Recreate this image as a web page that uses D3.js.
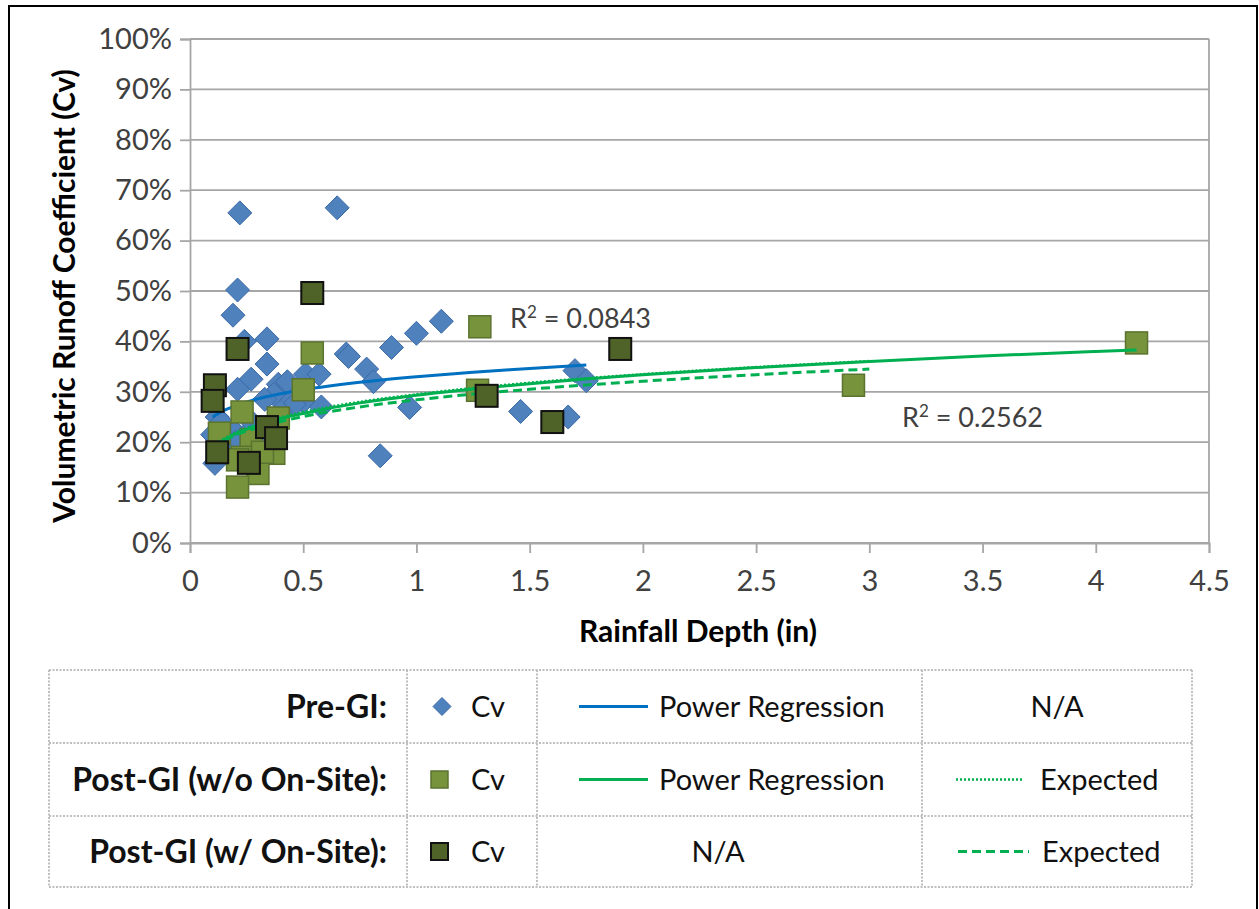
<!DOCTYPE html>
<html>
<head>
<meta charset="utf-8">
<script src="https://cdn.jsdelivr.net/npm/d3@7"></script>
<style>
  body { margin: 0; background: #fff; }
  svg { display: block; font-family: Lato, "Open Sans", sans-serif; }
</style>
</head>
<body>
<svg id="chart" width="1259" height="909"></svg>
<script>
// Pre-GI Cv points [rainfall depth (in), Cv]
const preGI = [
  [0.22, 0.655], [0.65, 0.665], [0.21, 0.502], [0.19, 0.452], [0.24, 0.40],
  [0.34, 0.405], [0.34, 0.355], [0.27, 0.325], [0.21, 0.305], [0.39, 0.315],
  [0.42, 0.30], [0.37, 0.295], [0.33, 0.285], [0.51, 0.335], [0.57, 0.335],
  [0.50, 0.28], [0.58, 0.27], [0.46, 0.275], [0.69, 0.375], [0.70, 0.37],
  [0.78, 0.345], [0.81, 0.32], [0.89, 0.388], [1.00, 0.416], [1.11, 0.44],
  [0.84, 0.173], [0.97, 0.269], [1.46, 0.261], [1.67, 0.25], [1.70, 0.342],
  [1.75, 0.322], [0.12, 0.25], [0.10, 0.215], [0.11, 0.158], [0.14, 0.24],
  [0.20, 0.22], [0.20, 0.20], [0.16, 0.18], [0.27, 0.225], [0.30, 0.205],
  [0.25, 0.25], [0.40, 0.26], [0.43, 0.32]
];
// Post-GI without on-site
const postNoSite = [
  [0.23, 0.26], [0.13, 0.218], [0.27, 0.205], [0.23, 0.17], [0.21, 0.165],
  [0.39, 0.248], [0.37, 0.178], [0.30, 0.138], [0.21, 0.111], [0.50, 0.304],
  [0.54, 0.377], [1.28, 0.429], [1.27, 0.303], [2.93, 0.313], [4.18, 0.397],
  [0.32, 0.18]
];
// Post-GI with on-site
const postSite = [
  [0.54, 0.496], [0.21, 0.385], [0.11, 0.313], [0.10, 0.282], [0.12, 0.18],
  [0.26, 0.159], [0.34, 0.23], [0.38, 0.208], [1.31, 0.292], [1.60, 0.24],
  [1.90, 0.385]
];
// trend lines
const prePower = [
  [0.1, 0.250], [0.15, 0.263], [0.2, 0.272], [0.3, 0.286], [0.4, 0.296],
  [0.5, 0.304], [0.75, 0.319], [1, 0.330], [1.25, 0.339], [1.5, 0.346], [1.75, 0.353]
];
const postPower = [
  [0.1, 0.190], [0.15, 0.205], [0.2, 0.216], [0.3, 0.234], [0.4, 0.247],
  [0.5, 0.257], [0.75, 0.278], [1, 0.293], [1.5, 0.316], [2, 0.334],
  [2.5, 0.348], [3, 0.360], [3.5, 0.371], [4, 0.380], [4.18, 0.383]
];
const expectedNoSite = [
  [0.1, 0.193], [0.2, 0.219], [0.3, 0.236], [0.5, 0.260], [0.75, 0.280],
  [1, 0.295], [1.5, 0.318], [2, 0.335], [2.5, 0.349], [3, 0.361]
];
const expectedSite = [
  [0.1, 0.189], [0.15, 0.203], [0.2, 0.214], [0.3, 0.229], [0.4, 0.241],
  [0.5, 0.251], [0.75, 0.270], [1, 0.284], [1.5, 0.305], [2, 0.321],
  [2.5, 0.334], [3, 0.345]
];
const xTicks = [0, 0.5, 1, 1.5, 2, 2.5, 3, 3.5, 4, 4.5];
const yTicks = [0, 0.1, 0.2, 0.3, 0.4, 0.5, 0.6, 0.7, 0.8, 0.9, 1.0];
const rowLabels = ["Pre-GI:", "Post-GI (w/o On-Site):", "Post-GI (w/ On-Site):"];

const svg = d3.select("#chart");

// outer frame
svg.append("rect")
  .attr("x", 9).attr("y", 6).attr("width", 1248).attr("height", 920)
  .attr("fill", "none").attr("stroke", "#000").attr("stroke-width", 2);

const x = d3.scaleLinear().domain([0, 4.5]).range([190, 1209]);
const y = d3.scaleLinear().domain([0, 1]).range([543, 39]);

// gridlines
svg.append("g").selectAll("line").data(yTicks).enter().append("line")
  .attr("x1", 190).attr("x2", 1209)
  .attr("y1", d => y(d)).attr("y2", d => y(d))
  .attr("stroke", "#a6a6a6").attr("stroke-width", 1.8);
svg.append("line")
  .attr("x1", 1209).attr("x2", 1209).attr("y1", y(1)).attr("y2", y(0))
  .attr("stroke", "#a6a6a6").attr("stroke-width", 1.8);

// axes
const yAxis = svg.append("g")
  .attr("transform", "translate(190,0)")
  .call(d3.axisLeft(y).tickValues(yTicks).tickFormat(d3.format(".0%")).tickSize(10).tickPadding(8));
const xAxis = svg.append("g")
  .attr("transform", `translate(0,${y(0)})`)
  .call(d3.axisBottom(x).tickValues(xTicks).tickFormat(d => String(d)).tickSize(10).tickPadding(17));
[yAxis, xAxis].forEach(ax => {
  ax.select(".domain").attr("stroke", "#a6a6a6").attr("stroke-width", 1.8);
  ax.selectAll(".tick line").attr("stroke", "#a6a6a6").attr("stroke-width", 1.8);
  ax.selectAll("text").attr("font-size", "29px").attr("fill", "#404040")
    .attr("font-family", "Lato, sans-serif");
});

// axis titles
svg.append("text")
  .attr("x", 698).attr("y", 642)
  .attr("text-anchor", "middle").attr("font-size", "30px").attr("font-weight", "bold")
  .text("Rainfall Depth (in)");
svg.append("text")
  .attr("transform", "translate(75,296) rotate(-90)")
  .attr("text-anchor", "middle").attr("font-size", "30px").attr("font-weight", "bold")
  .text("Volumetric Runoff Coefficient (Cv)");

const line = d3.line().x(d => x(d[0])).y(d => y(d[1])).curve(d3.curveMonotoneX);
const diamond = s => `M0,${-s}L${s},0L0,${s}L${-s},0Z`;

// pre-GI diamonds
svg.append("g").selectAll("path").data(preGI).enter().append("path")
  .attr("transform", d => `translate(${x(d[0])},${y(d[1])})`)
  .attr("d", diamond(12))
  .attr("fill", "#4f81bd").attr("stroke", "#3b6aa6").attr("stroke-width", 1);

svg.append("path").datum(prePower)
  .attr("d", line).attr("fill", "none").attr("stroke", "#0070c0").attr("stroke-width", 3);

// post-GI w/o on-site squares
svg.append("g").selectAll("rect").data(postNoSite).enter().append("rect")
  .attr("x", d => x(d[0]) - 11).attr("y", d => y(d[1]) - 11)
  .attr("width", 22).attr("height", 22)
  .attr("fill", "#77933c").attr("stroke", "#5b7330").attr("stroke-width", 1.5);

svg.append("path").datum(postPower)
  .attr("d", line).attr("fill", "none").attr("stroke", "#00b050").attr("stroke-width", 3);
svg.append("path").datum(expectedNoSite)
  .attr("d", line).attr("fill", "none").attr("stroke", "#00b050").attr("stroke-width", 2.5)
  .attr("stroke-dasharray", "2,2");
svg.append("path").datum(expectedSite)
  .attr("d", line).attr("fill", "none").attr("stroke", "#00b050").attr("stroke-width", 3)
  .attr("stroke-dasharray", "9,5");

// post-GI with on-site squares
svg.append("g").selectAll("rect").data(postSite).enter().append("rect")
  .attr("x", d => x(d[0]) - 11).attr("y", d => y(d[1]) - 11)
  .attr("width", 22).attr("height", 22)
  .attr("fill", "#4f6228").attr("stroke", "#111").attr("stroke-width", 2);

// R squared labels
const r2 = (px, py, val) => {
  const t = svg.append("text").attr("x", px).attr("y", py)
    .attr("font-size", "27px").attr("fill", "#404040");
  t.append("tspan").text("R");
  t.append("tspan").attr("font-size", "17px").attr("dy", "-10").text("2");
  t.append("tspan").attr("dy", "10").text(" = " + val);
};
r2(510, 328, "0.0843");
r2(902, 427, "0.2562");

// legend table
const cols = [49, 407, 537, 922, 1192];
const rows = [670, 743, 816, 887];
const grid = svg.append("g").attr("stroke", "#bfbfbf").attr("stroke-width", 2)
  .attr("stroke-dasharray", "2,1.5");
rows.forEach(r => grid.append("line").attr("x1", cols[0]).attr("x2", cols[4]).attr("y1", r).attr("y2", r));
cols.forEach(c => grid.append("line").attr("x1", c).attr("x2", c).attr("y1", rows[0]).attr("y2", rows[3]));

const rowMid = i => (rows[i] + rows[i + 1]) / 2;
svg.append("g").selectAll("text").data(rowLabels).enter().append("text")
  .attr("x", 387).attr("y", (d, i) => rowMid(i)).attr("dy", "0.35em")
  .attr("text-anchor", "end").attr("font-size", "32px").attr("font-weight", "bold")
  .attr("fill", "#111").text(d => d);

// marker column
svg.append("path").attr("transform", `translate(442,${rowMid(0)})`).attr("d", diamond(9))
  .attr("fill", "#4f81bd").attr("stroke", "#3b6aa6");
svg.append("rect").attr("x", 431).attr("y", rowMid(1) - 8.5).attr("width", 17).attr("height", 17)
  .attr("fill", "#77933c").attr("stroke", "#5b7330").attr("stroke-width", 1.5);
svg.append("rect").attr("x", 431).attr("y", rowMid(2) - 8.5).attr("width", 17).attr("height", 17)
  .attr("fill", "#4f6228").attr("stroke", "#111").attr("stroke-width", 2);
[0, 1, 2].forEach(i => svg.append("text").attr("x", 471).attr("y", rowMid(i)).attr("dy", "0.35em")
  .attr("font-size", "29px").attr("fill", "#111").text("Cv"));

// regression column
[["#0070c0", 0], ["#00b050", 1]].forEach(([c, i]) => {
  svg.append("line").attr("x1", 579).attr("x2", 648).attr("y1", rowMid(i)).attr("y2", rowMid(i))
    .attr("stroke", c).attr("stroke-width", 3);
  svg.append("text").attr("x", 659).attr("y", rowMid(i)).attr("dy", "0.35em")
    .attr("font-size", "29px").attr("fill", "#111").text("Power Regression");
});
svg.append("text").attr("x", 718).attr("y", rowMid(2)).attr("dy", "0.35em")
  .attr("text-anchor", "middle").attr("font-size", "29px").attr("fill", "#111").text("N/A");

// expected column
svg.append("text").attr("x", 1057).attr("y", rowMid(0)).attr("dy", "0.35em")
  .attr("text-anchor", "middle").attr("font-size", "29px").attr("fill", "#111").text("N/A");
svg.append("line").attr("x1", 956).attr("x2", 1023).attr("y1", rowMid(1)).attr("y2", rowMid(1))
  .attr("stroke", "#00b050").attr("stroke-width", 2.5).attr("stroke-dasharray", "2,2");
svg.append("line").attr("x1", 958).attr("x2", 1029).attr("y1", rowMid(2)).attr("y2", rowMid(2))
  .attr("stroke", "#00b050").attr("stroke-width", 3).attr("stroke-dasharray", "9,5");
svg.append("text").attr("x", 1040).attr("y", rowMid(1)).attr("dy", "0.35em")
  .attr("font-size", "29px").attr("fill", "#111").text("Expected");
svg.append("text").attr("x", 1042).attr("y", rowMid(2)).attr("dy", "0.35em")
  .attr("font-size", "29px").attr("fill", "#111").text("Expected");
</script>
</body>
</html>
